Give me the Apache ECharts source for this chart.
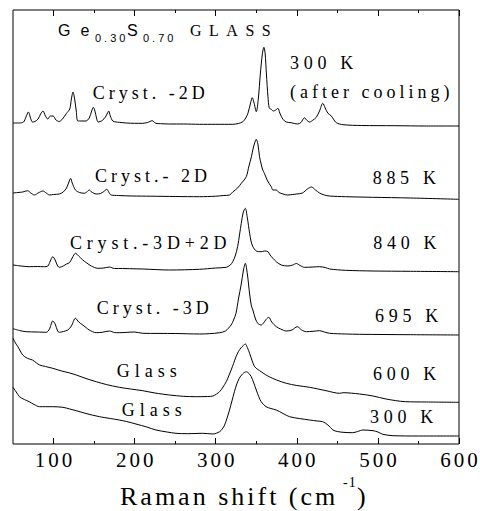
<!DOCTYPE html>
<html><head><meta charset="utf-8">
<script src="https://cdn.jsdelivr.net/npm/echarts@6/dist/echarts.min.js"></script>
<style>html,body{margin:0;padding:0;background:#fff}#chart{width:480px;height:511px}</style>
</head><body><div id="chart"></div>
<script>
// Raman shift ticks (cm^-1)
const xMajor = [100, 200, 300, 400, 500, 600];
const xMinor = [150, 250, 350, 450, 550];
const xTickLabels = ['100', '200', '300', '400', '500', '600'];

// Spectra (offset intensity, arbitrary units) as [shift, intensity]
const spec300Kcooled = [[50,321],[58,321],[63,322],[66,327],[69,332],[72,325],[74,322],[77,322.5],[81,325],[84,330],[87,333],[90,328],[93,325],[96,328],[99.5,328],[103,324],[107,322.5],[111,325],[116,330.7],[120,335],[122,345],[124,352],[126,345],[128,333],[130,323],[135,323],[140,323],[144,326],[147,333],[149,336.7],[151,333],[153,326],[155,322],[160,323.5],[164,327],[166.5,331],[168,333],[170,328],[173,323],[177,322],[181,321.7],[190,321],[200,320.7],[210,320.7],[216,321.5],[221.7,323.3],[226,320.7],[232,320.3],[243,320],[260,320],[280,319.7],[300,319.7],[321,319.7],[328,320.5],[333.5,322.3],[337,326],[339.7,330.7],[343,341],[345,346.3],[347,342],[350,332.3],[352.5,345],[355,370],[357.5,390],[359.4,396.7],[361,390],[362.5,370],[364.4,347.3],[366,336],[368.5,334.7],[371,333],[374,334],[376.7,335.7],[379,331],[382.9,324.7],[387,322],[393,321.3],[397,320.5],[401,320],[405,321.5],[409.6,326.3],[412,324],[415.8,322],[420,324],[424,326.7],[428,333],[432,340.7],[435,336],[438.4,330.7],[442.6,328],[445,325],[448.7,321.3],[457,319.3],[480,318.5],[520,318.3],[560,318],[600,318]];
const spec885K = [[50,251],[56,251.5],[62,252],[68,253.3],[72,251],[76.5,249],[81,251],[86.8,253],[91,251],[95,249],[100,249.5],[107,250],[112,252],[116,256],[119,262],[121,265.7],[123,261],[127,254],[132,251.5],[138,250.7],[141,252],[144,254],[147,252],[152.6,250],[158,250.5],[162,252.5],[165.7,254.7],[168,252],[171,249],[180,248.5],[197,248],[220,247.8],[250,247.5],[280,247.3],[300,247.8],[310,248.5],[317,249],[321,252],[327,256],[331.5,260.7],[334,263],[337.7,267.3],[341,278],[344,287.3],[346,295],[348,301],[350,304.7],[352,300],[354,287.3],[356,280],[358,274],[360,270.7],[364,263],[368.5,257.3],[370.5,254],[374.7,254],[378,251.5],[383,250],[388.6,249],[395,249.5],[400,250],[407,251],[413,255],[418,257],[423,254],[428,251],[434,249],[440,248],[460,247.3],[493.5,246.7],[540,246],[600,244.7]];
const spec840K = [[50,179],[60,178],[70,177.3],[80,177.5],[88,177.3],[93,178],[96,183],[99,187.3],[102,184],[105,178],[107.4,176.7],[112,178],[116,180],[119.7,181.3],[123,186],[127,190.7],[131,188],[136,184],[141,181],[146.5,178],[154.6,175.7],[162,176],[169,177],[175,175.5],[185,175.5],[193.7,175.3],[210,175],[243,174],[280,174.7],[300,176],[313,176.7],[318,179],[321,182.3],[324,188],[327,197.3],[329.5,210],[331.5,220.7],[334,232],[336.5,235.7],[339,226],[341.8,210.7],[343.5,203],[345.8,197.3],[350,193],[356,192.3],[360,193],[364.4,192.3],[367,189],[370.5,185.7],[375,182],[380.9,179],[389,178],[395,179],[399.4,180.5],[404,178.5],[409.6,176.7],[420,177],[428,177.3],[435,176.5],[440.5,175],[460,173.7],[494,173],[540,172.7],[600,172.3]];
const spec695K = [[50,115.3],[58,113.5],[66,112.3],[80,112],[91,111.7],[95,115],[99,123],[102,120],[105,113],[107,111.7],[112,112.5],[117.6,114],[122,118],[127,125.7],[131,122],[136,119],[140,116.5],[144,114],[152.6,111.3],[160,111.7],[169,113],[175,111.5],[181,111.3],[200,112],[210,110.7],[250,110.5],[280,110],[292,110.3],[304.8,111.3],[312,113],[319,119],[322,124],[325,130.7],[328,145],[331.5,160],[334,173],[336.5,180.7],[339,170],[341.8,150],[344,138],[345.8,134],[349,125],[352,120.5],[356,119],[359,121],[362,124.5],[365.5,126.7],[369,122],[374.7,117.3],[380,115],[387,113],[394,114],[400.5,117.3],[406,114],[411.7,112.3],[420,112.7],[428,113.3],[434,112],[440.5,110.7],[460,110],[477.5,109.7],[540,109.3],[600,109]];
const spec600K = [[50,105.7],[53,101],[56,97.3],[59,93],[62,89],[66,86.5],[70,85],[74,84],[79,81],[82.7,79],[90,77.5],[99,75.7],[110,73],[120,71],[128,69],[140,65.5],[152.6,62.3],[165,59.5],[181,56.7],[195,55],[210,53.3],[225,51],[243,49],[260,47.7],[276,47.3],[290,47.5],[296.5,48],[304.8,52.3],[309,57],[313,62.3],[316,68],[319,74],[322,80.5],[325,87.3],[328,92.5],[331,96],[334,98.5],[336.5,100],[339,96.5],[341.8,90.7],[345,83],[348,77.3],[352,74.5],[356,72.3],[361,69.5],[366,67.3],[375,64],[387,60.7],[400,58.5],[415.8,56.7],[436,53.3],[452.8,50.7],[457,51.3],[477.5,50],[494,48],[510,45],[534,42.3],[560,42],[600,41.7]];
const spec300K = [[50,56.7],[54,52],[58,47.3],[64,44.5],[70,42.3],[76,39.5],[82.7,37.3],[90,37.3],[99,37.3],[111.5,36.7],[120,35],[128,33.3],[140,30.5],[156.7,27.3],[170,25.5],[181,24],[190,22.5],[201.6,20],[215,17],[226.3,14],[240,12],[251,10.7],[265,10.3],[284,10.7],[296.5,10],[304.8,12.3],[308,15],[311,19],[314,26],[317,34],[320,43],[323,52.3],[326,60],[329,65.7],[333,70],[337.7,72.3],[341,70.5],[343.8,67.3],[347,61],[350,54],[353,47.5],[356,42.3],[362,37.3],[368,35.5],[374.7,34],[383,30.5],[391,27.3],[403,25.5],[415.8,24],[425,23],[432,22.3],[438.4,19],[444.5,14],[450,12.5],[457,11.7],[469,11.3],[475,12.5],[481.6,14],[494,13.3],[500,12],[506,9.7],[518.5,8.3],[550,8],[600,8]];

const seriesData = [spec300Kcooled, spec885K, spec840K, spec695K, spec600K, spec300K];

const SERIF = '"Liberation Serif","Times New Roman",serif';
const SANS = '"Liberation Sans",Arial,sans-serif';

// letter spacing per text (px)
const spacing = {
  'Ge': 10, '0.30': 3, 'S': 2, '0.70': 3, 'GLASS': 7.5,
  'Cryst. -2D': 4, 'Cryst.- 2D': 4, 'Cryst.-3D+2D': 4.8, 'Cryst. -3D': 4,
  '300 K': 4.7, '885 K': 4.7, '840 K': 4.7, '695 K': 4.7, '600 K': 4.7,
  '(after cooling)': 4, 'Glass': 5,
  'Raman shift (cm': 3, '-1': 1, ')': 0
};
xTickLabels.forEach(t => spacing[t] = 3);

function txt(s, x, y, size, family) {
  return { type: 'text', x: x, y: y, silent: true,
    style: { text: s, fill: '#000', font: size + 'px ' + family, align: 'left', verticalAlign: 'middle' } };
}

const labels = [
  txt('Ge', 58, 30, 16, SANS), txt('0.30', 95, 37.5, 11, SANS), txt('S', 127, 30, 16, SANS),
  txt('0.70', 143, 37.5, 11, SANS), txt('GLASS', 190, 30, 16, SERIF),
  txt('Cryst. -2D', 92.7, 93.2, 18, SERIF),
  txt('300 K', 290, 62.5, 18, SERIF), txt('(after cooling)', 290, 92, 18, SERIF),
  txt('Cryst.- 2D', 95, 176, 18, SERIF), txt('885 K', 372.7, 178, 18, SERIF),
  txt('Cryst.-3D+2D', 70, 242.5, 18, SERIF), txt('840 K', 373.3, 243, 18, SERIF),
  txt('Cryst. -3D', 96.7, 308, 18, SERIF), txt('695 K', 375, 315.5, 18, SERIF),
  txt('Glass', 116.7, 371, 18, SERIF), txt('600 K', 373, 373.7, 18, SERIF),
  txt('Glass', 121.7, 409.7, 18, SERIF), txt('300 K', 370, 417, 18, SERIF),
  txt('Raman shift (cm', 120, 496, 26, SERIF), txt('-1', 343, 482, 14, SERIF), txt(')', 357, 496, 26, SERIF)
];

function xAx(pos, ticks, len, showLabel) {
  return {
    type: 'value', min: 50, max: 600, position: pos,
    axisLine: { show: false },
    axisTick: { show: true, inside: true, length: len, customValues: ticks, lineStyle: { color: '#000', width: 1 } },
    axisLabel: showLabel ? { show: true, customValues: xMajor, formatter: v => xTickLabels[xMajor.indexOf(v)] || '',
      color: '#000', fontFamily: SERIF, fontSize: 21, margin: 5 } : { show: false },
    splitLine: { show: false }
  };
}

const chart = echarts.init(document.getElementById('chart'), null, { renderer: 'svg', width: 480, height: 511 });
chart.setOption({
  animation: false,
  backgroundColor: '#fff',
  grid: { left: 13, right: 21, top: 10, bottom: 67, show: true, borderColor: '#000', borderWidth: 1, backgroundColor: 'transparent' },
  xAxis: [xAx('bottom', xMajor, 6, true), xAx('bottom', xMinor, 3, false), xAx('top', xMajor, 6, false), xAx('top', xMinor, 3, false)],
  yAxis: { type: 'value', min: 0, max: 434, show: false },
  series: seriesData.map(d => ({ type: 'line', xAxisIndex: 0, data: d, showSymbol: false, smooth: 0.3,
    lineStyle: { color: '#000', width: 1 }, silent: true })),
  graphic: labels
});

function applySpacing() {
  document.querySelectorAll('#chart svg text').forEach(el => {
    const t = el.textContent;
    if (spacing[t] !== undefined) {
      el.style.letterSpacing = spacing[t] + 'px';
      if (el.getAttribute('text-anchor') === 'middle') el.setAttribute('dx', spacing[t] / 2);
    }
  });
}
chart.on('finished', applySpacing);
applySpacing();
setTimeout(applySpacing, 50);
</script></body></html>
